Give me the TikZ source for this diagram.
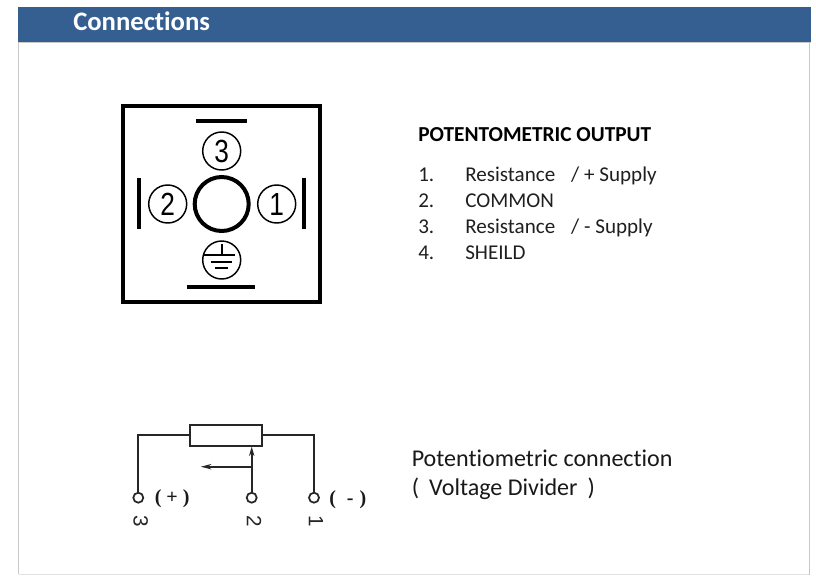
\documentclass[tikz,border=0pt]{standalone}
\usepackage{fontspec}
\setmainfont[Ligatures=NoCommon]{Carlito}
\newfontfamily\serifb{Liberation Serif}
\newfontfamily\armo{Liberation Sans}
\usetikzlibrary{arrows.meta}
\definecolor{band}{HTML}{365F91}
\definecolor{edgegrey}{HTML}{C8C8C8}
\definecolor{edgelight}{HTML}{E0E0E0}
\newcommand{\tallnum}[1]{\scalebox{0.82}[1]{\armo\fontsize{24}{24}\selectfont #1}}
\tikzset{
  px/.style={x=0.75pt,y=-0.75pt},
  pinring/.style={circle,draw=black,line width=1.1pt,minimum size=28.5pt,inner sep=0pt},
  bar/.style={line width=3pt},
  wire/.style={draw=black!85,line width=1.5pt},
  term/.style={circle,draw=black!85,line width=1.3pt,minimum size=7.5pt,inner sep=0pt,fill=white},
  listtext/.style={anchor=base west,inner sep=0pt,font=\fontsize{15.8}{15.8}\selectfont,text=black!88},
  pinno/.style={rotate=-90,inner sep=0pt,font=\armo\fontsize{15.5}{15.5}\selectfont,text=black!85},
  sign/.style={anchor=base west,inner sep=0pt,font=\serifb\bfseries\fontsize{15}{15}\selectfont,text=black!90},
  captext/.style={anchor=base west,inner sep=0pt,font=\fontsize{18.05}{18.05}\selectfont,text=black!90}
}
\begin{document}
\begin{tikzpicture}[px]
\useasboundingbox[fill=white] (0,0) rectangle (816,575);
% page frame
\draw[edgegrey,line width=1pt] (18.5,42) -- (18.5,574);
\draw[edgelight,line width=1pt] (18.5,574.3) -- (809.5,574.3);
\draw[edgegrey,line width=1.4pt] (809.5,42) -- (809.5,575);
\fill[band] (17.5,7) rectangle (811,41.5);
\draw[edgegrey,line width=1.2pt] (17.5,42.5) -- (811,42.5);
\node[anchor=base west,inner sep=0pt,text=white,font=\bfseries\fontsize{20}{20}\selectfont] (title) at (73,30) {Connections};
% connector face
\node[draw=black,line width=3pt,minimum width=147.7pt,minimum height=147.7pt,inner sep=0pt] (face) at (221.4,204) {};
\node[circle,draw=black,line width=3pt,minimum size=40.5pt,inner sep=0pt] (hub) at (221.7,204) {};
\node[pinring] (p3) at (221.7,151) {\tallnum{3}};
\node[pinring] (p2) at (167.7,204) {\tallnum{2}};
\node[pinring] (p1) at (276.7,204) {\tallnum{1}};
\node[pinring] (pe) at (221.7,260) {};
\draw[line width=1.3pt] (221.7,243.5) -- (221.7,255) (204,255) -- (235,255) (210.5,261.7) -- (232,261.7) (215,268) -- (228,268);
\draw[bar] (195.7,121.3) -- (247.3,121.3);
\draw[bar] (187.3,286.7) -- (255.3,286.7);
\draw[bar] (138.7,178) -- (138.7,229.3);
\draw[bar] (304,178) -- (304,229.3);
% list
\node[anchor=base west,inner sep=0pt,font=\bfseries\fontsize{16}{16}\selectfont,text=black] (head) at (418,141.7) {POTENTOMETRIC OUTPUT};
\node[listtext] (n1) at (418,181.7) {1.};
\node[listtext] (t1) at (465,181.7) {Resistance\hspace{0.76em}/ + Supply};
\node[listtext] (n2) at (418,207.7) {2.};
\node[listtext] (t2) at (465,207.7) {COMMON};
\node[listtext] (n3) at (418,233.3) {3.};
\node[listtext] (t3) at (465,233.3) {Resistance\hspace{0.76em}/ - Supply};
\node[listtext] (n4) at (418,259) {4.};
\node[listtext] (t4) at (465,259) {SHEILD};
% potentiometer
\node[draw=black!85,line width=1.5pt,fill=white,minimum width=54pt,minimum height=15.5pt,inner sep=0pt] (res) at (226.3,435.3) {};
\node[term] (a) at (138.3,497.7) {};
\node[term] (b) at (251.7,497.7) {};
\node[term] (c) at (314,497.7) {};
\draw[wire] (res.west) -- (138.3,435.3) -- (a.north);
\draw[wire] (res.east) -- (314,435.3) -- (c.north);
\coordinate (wipe) at (251.7,466.7);
\coordinate (wend) at (200.7,466.7);
\draw[wire,-{Stealth[length=7pt,width=4pt]}] (b.north) -- (b.north |- res.south);
\draw[wire,-{Stealth[length=8pt,width=4pt]}] (wipe) -- (wend);
\node[sign] (plus) at (154.5,503) {( + )};
\node[sign] (minus) at (329,504) {(\hspace{0.55em}-\hspace{0.3em})};
\node[pinno] (l3) at (140.7,521.5) {3};
\node[pinno] (l2) at (254,521.5) {2};
\node[pinno] (l1) at (316,521.5) {1};
\node[captext] (cap1) at (411.5,466) {Potentiometric connection};
\node[captext] (cap2) at (411.5,495) {(\hspace{0.42em}Voltage Divider\hspace{0.42em})};
\end{tikzpicture}
\end{document}
